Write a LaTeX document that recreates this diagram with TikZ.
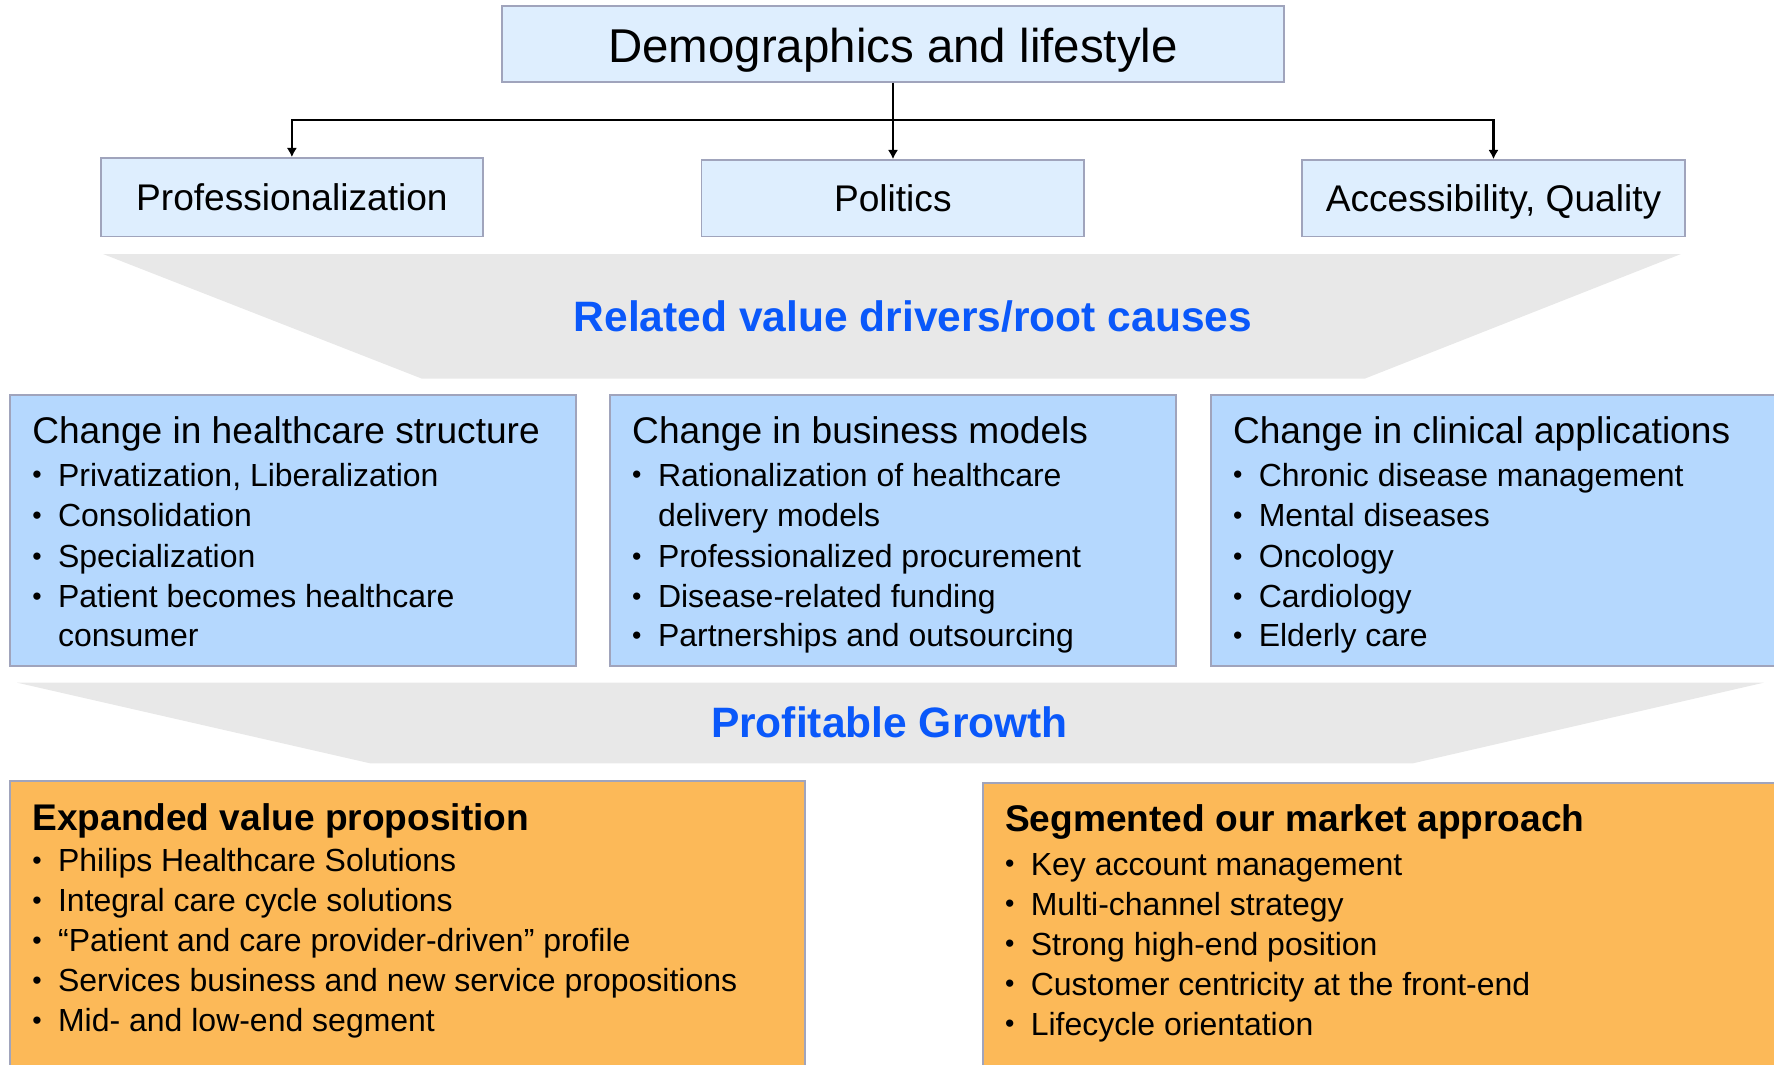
\documentclass[tikz,border=0pt]{standalone}
\usepackage{fontspec}
\setmainfont{Liberation Sans}
\usepackage{xcolor}
\usepackage{tikz}
\usetikzlibrary{arrows.meta}

\definecolor{topblue}{RGB}{222,238,254}
\definecolor{midblue}{RGB}{181,216,254}
\definecolor{boxorange}{RGB}{252,185,88}
\definecolor{boxedge}{RGB}{160,164,188}
\definecolor{funnelgrey}{RGB}{232,232,232}
\definecolor{titleblue}{RGB}{10,88,250}

\newcommand{\bul}{\makebox[0.258cm][l]{\raisebox{0.6pt}{\fontsize{7.6pt}{8pt}\selectfont\textbullet}}}

\begin{document}
\begin{tikzpicture}[>={Latex[length=2.6pt,width=2.9pt]},
  topbox/.style={draw=boxedge,line width=0.5pt,fill=topblue,inner sep=0pt,text height=0.266cm,text depth=0pt,font=\fontsize{10.56pt}{12pt}\selectfont},
  midbox/.style={draw=boxedge,line width=0.5pt,fill=midblue,minimum width=5.66cm,minimum height=2.707cm},
  orangebox/.style={draw=boxedge,line width=0.5pt,fill=boxorange,minimum height=3cm},
  boxhead/.style={anchor=base west,inner sep=0pt,font=\fontsize{10.56pt}{12pt}\selectfont},
  boxheadbf/.style={anchor=base west,inner sep=0pt,font=\fontsize{10.56pt}{12pt}\selectfont\bfseries},
  listline/.style={anchor=base west,inner sep=0pt,font=\fontsize{9.1pt}{11pt}\selectfont},
  bandtitle/.style={anchor=base,inner sep=0pt,text=titleblue,font=\fontsize{12.1pt}{14pt}\selectfont\bfseries},
  funnel/.style={fill=funnelgrey}]

\useasboundingbox (0,0) rectangle (17.74,-10.65);
\clip (0,0) rectangle (17.74,-10.65);

% TOP

% Demographics and the three drivers.
\node[topbox,minimum width=7.82cm,minimum height=0.757cm,text height=0.38cm,font=\fontsize{13.5pt}{16pt}\selectfont] (demo) at (8.93,-0.4385) {Demographics and lifestyle};
\node[topbox,minimum width=3.823cm,minimum height=0.786cm] (prof) at (2.919,-1.973) {Professionalization};
\node[topbox,minimum width=3.825cm,minimum height=0.766cm] (politics) at (8.928,-1.983) {Politics};
\node[topbox,minimum width=3.83cm,minimum height=0.766cm] (access) at (14.935,-1.983) {Accessibility, Quality};

% Demographics -> drivers.
\coordinate (split) at (8.93,-1.2);
\draw[->,line width=0.6pt] (demo.south) -- (demo.south |- politics.north);
\draw[->,line width=0.6pt] (split) -| (prof.north);
\draw[->,line width=0.6pt] (split) -| (access.north);

% First funnel.
\fill[funnel] (1.03,-2.54) -- (16.81,-2.54) -- (13.646,-3.787) -- (4.22,-3.787) -- cycle;
\node[bandtitle] (drivers) at (9.13,-3.317) {Related value drivers/root causes};

% MIDDLE

% Healthcare structure.
\node[midbox] (structure) at (2.9305,-5.3035) {};
\node[boxhead] (structhead) at (0.316,-4.433) {Change in healthcare structure};
\node[listline] (struct1) at (0.316,-4.86) {\bul Privatization, Liberalization};
\node[listline] (struct2) at (0.316,-5.267) {\bul Consolidation};
\node[listline] (struct3) at (0.316,-5.673) {\bul Specialization};
\node[listline] (struct4) at (0.316,-6.077) {\bul Patient becomes healthcare};
\node[listline] (struct4b) at (0.574,-6.467) {consumer};

% Business models.
\node[midbox] (business) at (8.928,-5.3035) {};
\node[boxhead] (busihead) at (6.315,-4.433) {Change in business models};
\node[listline] (busi1) at (6.315,-4.86) {\bul Rationalization of healthcare};
\node[listline] (busi1b) at (6.573,-5.267) {delivery models};
\node[listline] (busi2) at (6.315,-5.673) {\bul Professionalized procurement};
\node[listline] (busi3) at (6.315,-6.077) {\bul Disease-related funding};
\node[listline] (busi4) at (6.315,-6.467) {\bul Partnerships and outsourcing};

% Clinical applications.
\node[midbox] (clinical) at (14.94,-5.3035) {};
\node[boxhead] (clinhead) at (12.323,-4.433) {Change in clinical applications};
\node[listline] (clin1) at (12.323,-4.86) {\bul Chronic disease management};
\node[listline] (clin2) at (12.323,-5.267) {\bul Mental diseases};
\node[listline] (clin3) at (12.323,-5.673) {\bul Oncology};
\node[listline] (clin4) at (12.323,-6.077) {\bul Cardiology};
\node[listline] (clin5) at (12.323,-6.467) {\bul Elderly care};

% Second funnel.
\fill[funnel] (0.172,-6.827) -- (17.637,-6.827) -- (14.13,-7.633) -- (3.70,-7.633) -- cycle;
\node[bandtitle] (growth) at (8.894,-7.373) {Profitable Growth};

% BOTTOM

% Value proposition.
\node[orangebox,minimum width=7.947cm] (valueprop) at (4.0765,-9.307) {};
\node[boxheadbf] (valuehead) at (0.316,-8.30) {Expanded value proposition};
\node[listline] (value1) at (0.316,-8.717) {\bul Philips Healthcare Solutions};
\node[listline] (value2) at (0.316,-9.117) {\bul Integral care cycle solutions};
\node[listline] (value3) at (0.316,-9.517) {\bul “Patient and care provider-driven” profile};
\node[listline] (value4) at (0.316,-9.917) {\bul Services business and new service propositions};
\node[listline] (value5) at (0.316,-10.317) {\bul Mid- and low-end segment};

% Market approach.
\node[orangebox,minimum width=8.1cm] (market) at (13.883,-9.333) {};
\node[boxheadbf] (markethead) at (10.043,-8.317) {Segmented our market approach};
\node[listline] (market1) at (10.043,-8.75) {\bul Key account management};
\node[listline] (market2) at (10.043,-9.15) {\bul Multi-channel strategy};
\node[listline] (market3) at (10.043,-9.55) {\bul Strong high-end position};
\node[listline] (market4) at (10.043,-9.95) {\bul Customer centricity at the front-end};
\node[listline] (market5) at (10.043,-10.35) {\bul Lifecycle orientation};

\end{tikzpicture}
\end{document}
